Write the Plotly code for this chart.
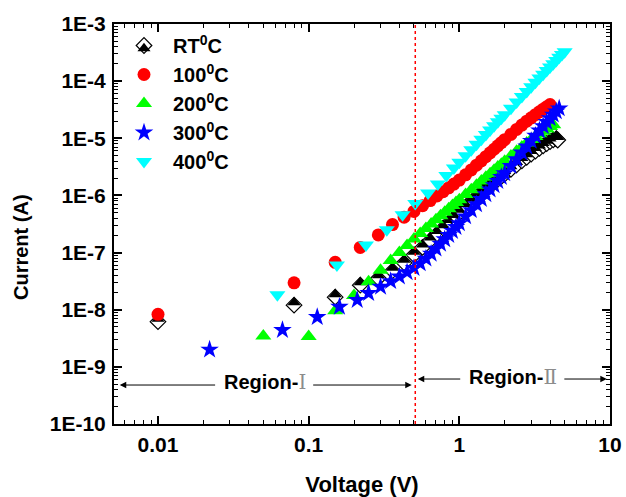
import plotly.graph_objects as go

# ---------------- data ----------------
rt_v = [0.01, 0.08, 0.15, 0.22, 0.29, 0.36, 0.43, 0.50, 0.57, 0.64, 0.71, 0.78, 0.85, 0.92,
        1.0, 1.1, 1.2, 1.3, 1.4, 1.5, 1.6, 1.7, 1.8, 1.9, 2.0,
        2.2, 2.4, 2.6, 2.8, 3.0, 3.2, 3.4, 3.6, 3.8, 4.0, 4.2, 4.4, 4.5]
rt_i = [6.17e-9, 1.20e-8, 1.66e-8, 2.69e-8, 3.55e-8, 4.79e-8, 6.61e-8, 9.12e-8, 1.23e-7, 1.63e-7, 2.11e-7, 2.67e-7, 3.30e-7, 4.03e-7,
        4.97e-7, 6.27e-7, 7.73e-7, 9.33e-7, 1.11e-6, 1.29e-6, 1.49e-6, 1.70e-6, 1.91e-6, 2.14e-6, 2.37e-6,
        2.87e-6, 3.42e-6, 4.02e-6, 4.65e-6, 5.30e-6, 5.97e-6, 6.65e-6, 7.35e-6, 8.05e-6, 8.75e-6, 9.38e-6, 9.82e-6, 9.33e-6]

t100_v = [0.01, 0.08, 0.15, 0.22, 0.29, 0.36, 0.43, 0.50, 0.57, 0.64, 0.71, 0.78, 0.85, 0.92,
          1.0, 1.1, 1.2, 1.3, 1.4, 1.5, 1.6, 1.7, 1.8, 1.9, 2.0,
          2.2, 2.4, 2.6, 2.8, 3.0, 3.2, 3.4, 3.6, 3.8, 4.0]
t100_i = [8.32e-9, 2.95e-8, 6.76e-8, 1.23e-7, 2.04e-7, 3.09e-7, 4.17e-7, 5.25e-7, 6.61e-7, 8.13e-7, 9.77e-7, 1.16e-6, 1.36e-6, 1.58e-6,
          1.86e-6, 2.29e-6, 2.80e-6, 3.38e-6, 4.04e-6, 4.76e-6, 5.56e-6, 6.43e-6, 7.38e-6, 8.38e-6, 9.44e-6,
          1.17e-5, 1.43e-5, 1.70e-5, 1.99e-5, 2.28e-5, 2.59e-5, 2.90e-5, 3.23e-5, 3.56e-5, 3.89e-5]

t200_v = [0.05, 0.10, 0.15, 0.20, 0.25, 0.30, 0.35, 0.40, 0.45, 0.50, 0.55, 0.60, 0.65, 0.70, 0.75, 0.80, 0.85, 0.90, 0.95,
          1.0, 1.1, 1.2, 1.3, 1.4, 1.5, 1.6, 1.7, 1.8, 1.9, 2.0,
          2.2, 2.4, 2.6, 2.8, 3.0, 3.2, 3.4, 3.6, 3.8, 4.0, 4.2]
t200_i = [3.47e-9, 3.39e-9, 9.55e-9, 1.78e-8, 3.09e-8, 4.90e-8, 7.24e-8, 1.00e-7, 1.33e-7, 1.72e-7, 2.15e-7, 2.64e-7, 3.17e-7, 3.76e-7, 4.41e-7, 5.10e-7, 5.85e-7, 6.65e-7, 7.52e-7,
          8.43e-7, 1.04e-6, 1.26e-6, 1.51e-6, 1.79e-6, 2.08e-6, 2.40e-6, 2.75e-6, 3.13e-6, 3.52e-6, 3.95e-6,
          4.90e-6, 5.93e-6, 7.05e-6, 8.24e-6, 9.48e-6, 1.07e-5, 1.20e-5, 1.33e-5, 1.46e-5, 1.60e-5, 1.73e-5]

t300_v = [0.022, 0.067, 0.114, 0.16, 0.21, 0.25, 0.30, 0.35, 0.40, 0.45, 0.50, 0.55, 0.60, 0.65, 0.70, 0.75, 0.80, 0.85, 0.90, 0.95,
          1.0, 1.1, 1.2, 1.3, 1.4, 1.5, 1.6, 1.7, 1.8, 1.9, 2.0,
          2.2, 2.4, 2.6, 2.8, 3.0, 3.2, 3.4, 3.6, 3.8, 4.0, 4.2, 4.4, 4.6]
t300_i = [2.0e-9, 4.42e-9, 7.41e-9, 1.12e-8, 1.48e-8, 1.95e-8, 2.51e-8, 3.16e-8, 3.80e-8, 4.52e-8, 5.37e-8, 6.46e-8, 7.82e-8, 9.55e-8, 1.17e-7, 1.42e-7, 1.70e-7, 2.03e-7, 2.39e-7, 2.80e-7,
          3.25e-7, 4.29e-7, 5.52e-7, 6.97e-7, 8.63e-7, 1.05e-6, 1.27e-6, 1.51e-6, 1.79e-6, 2.09e-6, 2.43e-6,
          3.26e-6, 4.31e-6, 5.61e-6, 7.16e-6, 8.99e-6, 1.11e-5, 1.36e-5, 1.63e-5, 1.93e-5, 2.25e-5, 2.59e-5, 2.95e-5, 3.33e-5]

t400_v = [0.062, 0.154, 0.24, 0.33, 0.42, 0.51, 0.62, 0.72, 0.82, 0.92,
          1.0, 1.1, 1.2, 1.3, 1.4, 1.5, 1.6, 1.7, 1.8, 1.9, 2.0,
          2.2, 2.4, 2.6, 2.8, 3.0, 3.2, 3.4, 3.6, 3.8, 4.0, 4.2, 4.4, 4.6, 4.8, 5.0]
t400_i = [1.82e-8, 6.03e-8, 1.35e-7, 2.51e-7, 4.57e-7, 7.24e-7, 1.10e-6, 1.58e-6, 2.24e-6, 3.02e-6,
          3.80e-6, 4.95e-6, 6.31e-6, 7.85e-6, 9.66e-6, 1.17e-5, 1.40e-5, 1.65e-5, 1.94e-5, 2.25e-5, 2.59e-5,
          3.37e-5, 4.30e-5, 5.37e-5, 6.59e-5, 7.98e-5, 9.53e-5, 1.13e-4, 1.32e-4, 1.53e-4, 1.77e-4, 2.02e-4, 2.30e-4, 2.61e-4, 2.93e-4, 3.28e-4]

series_names = ["RT<sup>0</sup>C", "100<sup>0</sup>C", "200<sup>0</sup>C", "300<sup>0</sup>C", "400<sup>0</sup>C"]

x_tickvals = [0.01, 0.1, 1, 10]
x_ticktext = ["0.01", "0.1", "1", "10"]
y_tickvals = [1e-10, 1e-9, 1e-8, 1e-7, 1e-6, 1e-5, 1e-4, 1e-3]
y_ticktext = ["1E-10", "1E-9", "1E-8", "1E-7", "1E-6", "1E-5", "1E-4", "1E-3"]

boundary_v = 0.51
NUM_STYLE = "font-family:DejaVu Serif;font-weight:normal;color:#8c8c8c"
region_labels = ["<b>Region-</b><span style='" + NUM_STYLE + "'>Ⅰ</span>",
                 "<b>Region-</b><span style='" + NUM_STYLE + "'>Ⅱ</span>"]

FONT = "Liberation Sans, Arial, sans-serif"

# plot-area geometry in pixels
L, R, T_, B = 114, 16, 24, 73
PW, PH = 626 - L - R, 497 - T_ - B

fig = go.Figure()

# RT: half-filled diamond = white diamond + black upper half
D = 12
fig.add_trace(go.Scatter(x=rt_v, y=rt_i, mode="markers", name=series_names[0],
                         marker=dict(symbol="diamond", size=D, color="white", line=dict(color="black", width=1.2))))
TS = 11.4
fig.add_trace(go.Scatter(x=rt_v, y=rt_i, mode="markers", name=series_names[0], legend="legend2",
                         marker=dict(symbol="triangle-down", size=TS, angle=180, standoff=TS / 4, color="black",
                                     line=dict(width=0))))
fig.add_trace(go.Scatter(x=t100_v, y=t100_i, mode="markers", name=series_names[1],
                         marker=dict(symbol="circle", size=13, color="#ff0000", line=dict(width=0))))
fig.add_trace(go.Scatter(x=t200_v, y=t200_i, mode="markers", name=series_names[2],
                         marker=dict(symbol="triangle-up", size=14, color="#00ff00", line=dict(width=0))))
fig.add_trace(go.Scatter(x=t300_v, y=t300_i, mode="markers", name=series_names[3],
                         marker=dict(symbol="star", size=14, color="#0000ff", line=dict(width=0))))
fig.add_trace(go.Scatter(x=t400_v, y=t400_i, mode="markers", name=series_names[4],
                         marker=dict(symbol="triangle-down", size=14, color="#00ffff", line=dict(width=0))))

# boundary line
fig.add_shape(type="line", x0=boundary_v, x1=boundary_v, xref="x", y0=0, y1=1, yref="paper",
              line=dict(color="#ff0000", width=1.5, dash="dot"))

# region annotations (annotation coords on log axes are log10 values)
def arrow(x_tip, x_tail, y):
    fig.add_annotation(x=x_tip, y=y, ax=x_tail, ay=y, xref="x", yref="y", axref="x", ayref="y",
                       text="", showarrow=True, arrowhead=2, arrowsize=1.3, arrowwidth=1, arrowcolor="black")

arrow(-2.254, -1.611, -9.318)
arrow(-0.316, -0.98, -9.318)
arrow(-0.276, 0.016, -9.213)
arrow(0.979, 0.687, -9.213)
fig.add_annotation(x=-1.288, y=-9.265, xref="x", yref="y", text=region_labels[0], showarrow=False,
                   font=dict(size=20, family=FONT, color="black"))
fig.add_annotation(x=0.358, y=-9.178, xref="x", yref="y", text=region_labels[1], showarrow=False,
                   font=dict(size=20, family=FONT, color="black"))

# y-axis title placed like the reference (x=21px, y=247px)
fig.add_annotation(x=(21 - L) / PW, xref="paper", xanchor="center",
                   y=(T_ + PH - 247) / PH, yref="paper", yanchor="middle",
                   text="<b>Current (A)</b>", showarrow=False, textangle=-90,
                   font=dict(size=20, family=FONT, color="black"))

axis_common = dict(showline=True, linecolor="black", linewidth=2, mirror="allticks", ticks="inside",
                   ticklen=8, tickwidth=1.5, tickcolor="black", showgrid=False, zeroline=False,
                   automargin=False,
                   tickfont=dict(size=21, family=FONT, color="black", weight="bold"),
                   minor=dict(ticks="inside", ticklen=4, tickwidth=1, tickcolor="black", showgrid=False, dtick="D1"))

fig.update_xaxes(type="log", range=[-2.292, 1], tickvals=x_tickvals, ticktext=x_ticktext,
                 title=dict(text="Voltage (V)", font=dict(size=22, family=FONT, color="black", weight="bold"), standoff=21),
                 ticklabelstandoff=1, **axis_common)
fig.update_yaxes(type="log", range=[-10, -3], tickvals=y_tickvals, ticktext=y_ticktext,
                 ticklabelstandoff=2, **axis_common)

legend_common = dict(x=(115 - L) / PW, y=0.995, xanchor="left", yanchor="top", bgcolor="rgba(0,0,0,0)",
                     borderwidth=0, itemwidth=48, tracegroupgap=0, traceorder="normal")
fig.update_layout(
    width=626, height=497,
    margin=dict(l=L, r=R, t=T_, b=B),
    plot_bgcolor="white", paper_bgcolor="white",
    font=dict(family=FONT, size=18, color="black"),
    legend=dict(font=dict(size=20, family=FONT, color="black", weight="bold"), **legend_common),
    legend2=dict(font=dict(size=20, family=FONT, color="rgba(0,0,0,0)", weight="bold"), **legend_common),
)

fig.write_html("out.html")
